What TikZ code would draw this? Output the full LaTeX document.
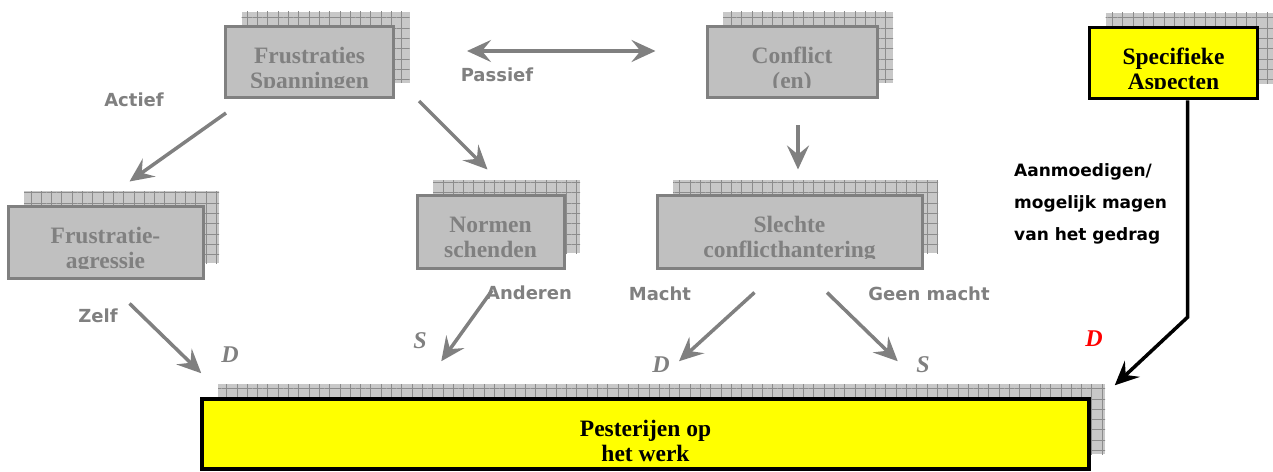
\documentclass[tikz,border=0pt]{standalone}
\usepackage{fontspec}
\setmainfont{Liberation Serif}
\newfontfamily\handfont{DejaVu Sans}
\usepackage{tikz}
\usetikzlibrary{arrows.meta,shadows,patterns.meta}

\definecolor{boxgray}{HTML}{C0C0C0}
\definecolor{linegray}{HTML}{808080}
\definecolor{gridgray}{HTML}{8C8C8C}
\definecolor{shadegray}{HTML}{C8C8C8}
\definecolor{markyellow}{HTML}{FFFF00}

\tikzset{
  textcut/.initial=10pt,
  % checkered sheet lying behind every box
  backsheet/.style={copy shadow={shadow xshift=16pt, shadow yshift=15pt, draw=none, fill=shadegray,
      postaction={pattern={Hatch[angle=0,distance=10.3pt,line width=0.8pt]}, pattern color=gridgray}}},
  greybox/.style={backsheet, rectangle, draw=linegray, line width=3pt, fill=boxgray, inner sep=0pt},
  yellowbox/.style={backsheet, rectangle, draw=black, line width=3.5pt, fill=markyellow, inner sep=0pt},
  boxtext/.style={font=\fontsize{23.5}{25}\selectfont\bfseries, align=center, inner sep=0pt, anchor=base},
  % box text is cut off a bit above the lower border
  inscribe/.style={path picture={
      \clip ([yshift=\pgfkeysvalueof{/tikz/textcut}]path picture bounding box.south west) rectangle (path picture bounding box.north east);
      \node[boxtext, text=linegray] at ([yshift=-62pt]path picture bounding box.north) {#1};}},
  inscribe black/.style={path picture={
      \clip ([yshift=\pgfkeysvalueof{/tikz/textcut}]path picture bounding box.south west) rectangle (path picture bounding box.north east);
      \node[boxtext, text=black] at ([yshift=-62pt]path picture bounding box.north) {#1};}},
  flow/.style={draw=linegray, line width=3.5pt, -{Stealth[length=24pt,width=22pt,inset=9pt]}},
  remark/.style={font=\handfont\bfseries\fontsize{18}{32}\selectfont, text=linegray, inner sep=0pt},
  letter/.style={font=\fontsize{24}{24}\selectfont\bfseries\itshape, text=linegray, inner sep=0pt}
}

\begin{document}
\begin{tikzpicture}[x=1pt, y=-1pt]
	\useasboundingbox (0,0) rectangle (1273,471);
	
	% top row
	\node[greybox, minimum width=168pt, minimum height=71pt, inscribe={Frustraties\\Spanningen}] (frust) at (309.5,62) {};
	\node[greybox, minimum width=170pt, minimum height=71pt, inscribe={Conflict\\(en)}] (conflict) at (792,62) {};
	\node[yellowbox, minimum width=168pt, minimum height=71pt, inscribe black={Specifieke\\Aspecten}] (specific) at (1173.5,63) {};
	
	% middle row
	\node[greybox, minimum width=195pt, minimum height=72pt, inscribe={Frustratie-\\agressie}] (agress) at (105.5,242) {};
	\node[greybox, minimum width=147pt, minimum height=73pt, inscribe={Normen\\schenden}] (normen) at (490.5,231.5) {};
	\node[greybox, minimum width=265pt, minimum height=73pt, inscribe={Slechte\\conflicthantering}] (slecht) at (789.5,231.5) {};
	
	% bottom box
	\node[yellowbox, minimum width=887pt, minimum height=70pt, textcut=2pt, inscribe black={Pesterijen op\\het werk}] (pest) at (645.5,434) {};
	
	% arrows out of the top row
	\draw[flow] ([xshift=2pt,yshift=-14pt]frust.south west) -- ([xshift=123pt,yshift=23pt]agress.north west);
	\draw[flow] ([xshift=24pt,yshift=-2pt]frust.south east) -- ([xshift=72pt,yshift=24pt]normen.north west);
	\draw[flow, {Stealth[length=24pt,width=22pt,inset=9pt]}-{Stealth[length=24pt,width=22pt,inset=9pt]}]
		([xshift=72pt,yshift=11pt]frust.east) -- ([xshift=-50pt,yshift=11pt]conflict.west);
	\draw[flow] ([xshift=6pt,yshift=-26pt]conflict.south) -- ([xshift=8.5pt,yshift=24pt]slecht.north);
	
	% arrows into the bottom box
	\draw[flow] ([xshift=123pt,yshift=-24pt]agress.south west) -- ([xshift=1pt,yshift=24pt]pest.north west);
	\draw[flow] ([xshift=1.5pt,yshift=-21pt]normen.south) -- ([xshift=241pt,yshift=36pt]pest.north west);
	\draw[flow] ([xshift=-35pt,yshift=-23pt]slecht.south) -- ([xshift=33.5pt,yshift=36pt]pest.north);
	\draw[flow] ([xshift=37.5pt,yshift=-23pt]slecht.south) -- ([xshift=-193pt,yshift=36pt]pest.north east);
	\draw[flow, draw=black] ([xshift=14pt]specific.south) -- ++(0,217) -- ([xshift=24pt,yshift=12pt]pest.north east);
	
	% labels on the arrows
	\node[remark] (actief) at (134,100) {Actief};
	\node[remark] (passief) at (497,75) {Passief};
	\node[remark] (zelf) at (98,316) {Zelf};
	\node[remark] (anderen) at (529,293) {Anderen};
	\node[remark] (macht) at (660,294) {Macht};
	\node[remark] (geenmacht) at (929,294) {Geen macht};
	\node[remark, font=\handfont\bfseries\fontsize{17}{32}\selectfont, text=black, align=left, anchor=north west] (aanmoed) at (1014,163) {Aanmoedigen/\\mogelijk magen\\van het gedrag};
	
	% D and S marks
	\node[letter] (d1) at (230,355) {D};
	\node[letter] (s1) at (420,341) {S};
	\node[letter] (d2) at (661,365) {D};
	\node[letter] (s2) at (923,365) {S};
	\node[letter, text=red] (d3) at (1094,339) {D};
\end{tikzpicture}
\end{document}
